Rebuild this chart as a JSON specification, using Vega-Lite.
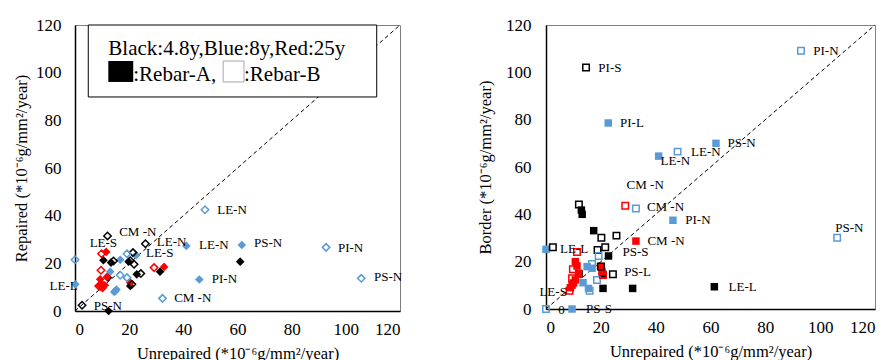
{
  "$schema": "https://vega.github.io/schema/vega-lite/v6.json",
  "padding": {"left": 13, "top": 15, "right": 0, "bottom": 0},
  "autosize": {"type": "pad"},
  "background": "white",
  "bounds": "flush",
  "spacing": 146,
  "config": {
    "font": "Liberation Serif",
    "view": {"stroke": "#808080", "strokeWidth": 1},
    "axis": {
      "grid": false, "ticks": false, "domainColor": "#000000", "domainWidth": 1.5,
      "labelFont": "Liberation Serif", "labelFontSize": 17, "labelColor": "#000000",
      "titleFont": "Liberation Serif", "titleFontSize": 16.5, "titleFontWeight": "normal", "titleColor": "#000000"
    },
    "axisX": {"labelPadding": 10, "titlePadding": 8},
    "axisY": {"labelPadding": 14}
  },
  "datasets": {
    "diag": [{"x": 0, "y": 0}, {"x": 120, "y": 120}],
    "one": [{"k": 1}],
    "left": [
      {"x": 61.0, "y": 20.7, "age": "4.8y", "rebar": "A"},
      {"x": 12.4, "y": 0, "age": "4.8y", "rebar": "A"},
      {"x": 10.5, "y": 21.3, "age": "4.8y", "rebar": "A"},
      {"x": 13.3, "y": 20.3, "age": "4.8y", "rebar": "A"},
      {"x": 19.8, "y": 20.7, "age": "4.8y", "rebar": "A"},
      {"x": 22.8, "y": 15.4, "age": "4.8y", "rebar": "A"},
      {"x": 31.4, "y": 16.5, "age": "4.8y", "rebar": "A"},
      {"x": 20.4, "y": 10.5, "age": "4.8y", "rebar": "A"},
      {"x": 12.2, "y": 14.0, "age": "4.8y", "rebar": "A"},
      {"x": 12.0, "y": 31.5, "age": "4.8y", "rebar": "B"},
      {"x": 26.0, "y": 28.2, "age": "4.8y", "rebar": "B"},
      {"x": 2.6, "y": 2.4, "age": "4.8y", "rebar": "B"},
      {"x": 14.2, "y": 21.0, "age": "4.8y", "rebar": "B"},
      {"x": 21.4, "y": 24.5, "age": "4.8y", "rebar": "B"},
      {"x": 20.4, "y": 21.1, "age": "4.8y", "rebar": "B"},
      {"x": 21.8, "y": 19.6, "age": "4.8y", "rebar": "B"},
      {"x": 24.3, "y": 15.7, "age": "4.8y", "rebar": "B"},
      {"x": 21.0, "y": 11.2, "age": "4.8y", "rebar": "B"},
      {"x": 61.6, "y": 27.7, "age": "8y", "rebar": "A"},
      {"x": 41.1, "y": 27.3, "age": "8y", "rebar": "A"},
      {"x": 45.9, "y": 13.2, "age": "8y", "rebar": "A"},
      {"x": 0.1, "y": 11.2, "age": "8y", "rebar": "A"},
      {"x": 22.6, "y": 23.4, "age": "8y", "rebar": "A"},
      {"x": 16.7, "y": 21.5, "age": "8y", "rebar": "A"},
      {"x": 13.0, "y": 16.5, "age": "8y", "rebar": "A"},
      {"x": 14.9, "y": 8.4, "age": "8y", "rebar": "A"},
      {"x": 15.3, "y": 9.0, "age": "8y", "rebar": "A"},
      {"x": 14.5, "y": 8.0, "age": "8y", "rebar": "A"},
      {"x": 48.0, "y": 42.5, "age": "8y", "rebar": "B"},
      {"x": 92.7, "y": 26.7, "age": "8y", "rebar": "B"},
      {"x": 105.7, "y": 13.7, "age": "8y", "rebar": "B"},
      {"x": 32.3, "y": 5.3, "age": "8y", "rebar": "B"},
      {"x": 0, "y": 21.5, "age": "8y", "rebar": "B"},
      {"x": 19.2, "y": 24.0, "age": "8y", "rebar": "B"},
      {"x": 16.7, "y": 15.0, "age": "8y", "rebar": "B"},
      {"x": 19.2, "y": 14.0, "age": "8y", "rebar": "B"},
      {"x": 11.5, "y": 24.8, "age": "25y", "rebar": "A"},
      {"x": 32.9, "y": 18.5, "age": "25y", "rebar": "A"},
      {"x": 11.8, "y": 14.3, "age": "25y", "rebar": "A"},
      {"x": 20.4, "y": 11.9, "age": "25y", "rebar": "A"},
      {"x": 9.3, "y": 13.3, "age": "25y", "rebar": "A"},
      {"x": 9.3, "y": 10.1, "age": "25y", "rebar": "A"},
      {"x": 8.6, "y": 10.5, "age": "25y", "rebar": "A"},
      {"x": 10.2, "y": 9.6, "age": "25y", "rebar": "A"},
      {"x": 9.8, "y": 11.5, "age": "25y", "rebar": "A"},
      {"x": 11.0, "y": 10.8, "age": "25y", "rebar": "A"},
      {"x": 9.8, "y": 24.0, "age": "25y", "rebar": "B"},
      {"x": 9.6, "y": 17.1, "age": "25y", "rebar": "B"},
      {"x": 29.2, "y": 18.2, "age": "25y", "rebar": "B"}
    ],
    "right": [
      {"x": 12.9, "y": 41.8, "age": "4.8y", "rebar": "A"},
      {"x": 13.2, "y": 40.0, "age": "4.8y", "rebar": "A"},
      {"x": 17.4, "y": 33.1, "age": "4.8y", "rebar": "A"},
      {"x": 22.8, "y": 22.4, "age": "4.8y", "rebar": "A"},
      {"x": 20.8, "y": 8.7, "age": "4.8y", "rebar": "A"},
      {"x": 31.6, "y": 8.7, "age": "4.8y", "rebar": "A"},
      {"x": 61.4, "y": 9.4, "age": "4.8y", "rebar": "A"},
      {"x": 12.1, "y": 14.8, "age": "4.8y", "rebar": "A"},
      {"x": 20.6, "y": 14.8, "age": "4.8y", "rebar": "A"},
      {"x": 14.6, "y": 102.0, "age": "4.8y", "rebar": "B"},
      {"x": 12.0, "y": 44.2, "age": "4.8y", "rebar": "B"},
      {"x": 2.5, "y": 26.1, "age": "4.8y", "rebar": "B"},
      {"x": 20.2, "y": 30.1, "age": "4.8y", "rebar": "B"},
      {"x": 25.7, "y": 31.0, "age": "4.8y", "rebar": "B"},
      {"x": 18.8, "y": 24.9, "age": "4.8y", "rebar": "B"},
      {"x": 21.6, "y": 26.1, "age": "4.8y", "rebar": "B"},
      {"x": 24.4, "y": 14.7, "age": "4.8y", "rebar": "B"},
      {"x": 20.0, "y": 18.0, "age": "4.8y", "rebar": "B"},
      {"x": 22.7, "y": 78.6, "age": "8y", "rebar": "A"},
      {"x": 62.0, "y": 70.0, "age": "8y", "rebar": "A"},
      {"x": 41.1, "y": 64.6, "age": "8y", "rebar": "A"},
      {"x": 46.3, "y": 37.5, "age": "8y", "rebar": "A"},
      {"x": 0, "y": 25.2, "age": "8y", "rebar": "A"},
      {"x": 9.5, "y": 0, "age": "8y", "rebar": "A"},
      {"x": 15.0, "y": 17.9, "age": "8y", "rebar": "A"},
      {"x": 16.8, "y": 17.2, "age": "8y", "rebar": "A"},
      {"x": 13.5, "y": 11.1, "age": "8y", "rebar": "A"},
      {"x": 15.5, "y": 8.7, "age": "8y", "rebar": "A"},
      {"x": 93.0, "y": 109.1, "age": "8y", "rebar": "B"},
      {"x": 106.2, "y": 30.1, "age": "8y", "rebar": "B"},
      {"x": 48.0, "y": 66.5, "age": "8y", "rebar": "B"},
      {"x": 32.8, "y": 42.5, "age": "8y", "rebar": "B"},
      {"x": 0, "y": 0, "age": "8y", "rebar": "B"},
      {"x": 19.2, "y": 22.4, "age": "8y", "rebar": "B"},
      {"x": 16.8, "y": 19.0, "age": "8y", "rebar": "B"},
      {"x": 18.6, "y": 12.3, "age": "8y", "rebar": "B"},
      {"x": 15.9, "y": 7.7, "age": "8y", "rebar": "B"},
      {"x": 32.8, "y": 28.7, "age": "25y", "rebar": "A"},
      {"x": 10.7, "y": 20.0, "age": "25y", "rebar": "A"},
      {"x": 11.3, "y": 18.2, "age": "25y", "rebar": "A"},
      {"x": 20.2, "y": 17.9, "age": "25y", "rebar": "A"},
      {"x": 20.4, "y": 15.8, "age": "25y", "rebar": "A"},
      {"x": 11.9, "y": 15.1, "age": "25y", "rebar": "A"},
      {"x": 10.7, "y": 12.3, "age": "25y", "rebar": "A"},
      {"x": 9.5, "y": 10.1, "age": "25y", "rebar": "A"},
      {"x": 8.9, "y": 9.0, "age": "25y", "rebar": "A"},
      {"x": 10.0, "y": 11.0, "age": "25y", "rebar": "A"},
      {"x": 28.9, "y": 43.6, "age": "25y", "rebar": "B"},
      {"x": 11.3, "y": 24.1, "age": "25y", "rebar": "B"},
      {"x": 9.8, "y": 16.8, "age": "25y", "rebar": "B"},
      {"x": 9.5, "y": 13.0, "age": "25y", "rebar": "B"},
      {"x": 20.8, "y": 14.4, "age": "25y", "rebar": "B"},
      {"x": 8.6, "y": 7.7, "age": "25y", "rebar": "B"}
    ],
    "leftLabels": [
      {"x": 52.5, "y": 42.5, "t": "LE-N"},
      {"x": 16.3, "y": 33.3, "t": "CM -N"},
      {"x": 5.4, "y": 28.7, "t": "LE-S"},
      {"x": 30.2, "y": 28.8, "t": "LE-N"},
      {"x": 45.8, "y": 27.8, "t": "LE-N"},
      {"x": 66.1, "y": 28.5, "t": "PS-N"},
      {"x": 97.1, "y": 26.4, "t": "PI-N"},
      {"x": 26.2, "y": 24.4, "t": "LE-S"},
      {"x": 50.5, "y": 13.4, "t": "PI-N"},
      {"x": 110.4, "y": 14.2, "t": "PS-N"},
      {"x": -9.4, "y": 10.4, "t": "LE-L"},
      {"x": 36.6, "y": 5.4, "t": "CM -N"},
      {"x": 6.9, "y": 2.0, "t": "PS-N"}
    ],
    "rightLabels": [
      {"x": 97.5, "y": 109.1, "t": "PI-N"},
      {"x": 19.1, "y": 102.0, "t": "PI-S"},
      {"x": 27.0, "y": 78.6, "t": "PI-L"},
      {"x": 66.2, "y": 70.3, "t": "PS-N"},
      {"x": 52.9, "y": 66.5, "t": "LE-N"},
      {"x": 41.8, "y": 62.4, "t": "LE-N"},
      {"x": 29.4, "y": 52.2, "t": "CM -N"},
      {"x": 36.8, "y": 43.3, "t": "CM -N"},
      {"x": 50.8, "y": 37.5, "t": "PI-N"},
      {"x": 105.5, "y": 34.4, "t": "PS-N"},
      {"x": 37.0, "y": 28.9, "t": "CM -N"},
      {"x": 5.1, "y": 25.3, "t": "LE-L"},
      {"x": 27.9, "y": 24.0, "t": "PS-S"},
      {"x": 28.5, "y": 15.8, "t": "PS-L"},
      {"x": 66.6, "y": 9.4, "t": "LE-L"},
      {"x": -2.4, "y": 7.3, "t": "LE-S"},
      {"x": 4.5, "y": -0.4, "t": "0"},
      {"x": 14.6, "y": 0.0, "t": "PS-S"}
    ]
  },
  "hconcat": [
    {
      "width": 325,
      "height": 286,
      "encoding": {
        "x": {"type": "quantitative", "scale": {"domain": [0, 120], "nice": false}, "axis": {"values": [0, 20, 40, 60, 80, 100, 120], "title": "Unrepaired (*10⁻⁶g/mm²/year)"}},
        "y": {"type": "quantitative", "scale": {"domain": [0, 120], "nice": false}, "axis": {"values": [0, 20, 40, 60, 80, 100, 120], "title": "Repaired (*10⁻⁶g/mm²/year)", "titlePadding": 6}}
      },
      "layer": [
        {
          "data": {"name": "diag"},
          "mark": {"type": "line", "color": "#000000", "strokeWidth": 1, "strokeDash": [4, 3]},
          "encoding": {"x": {"field": "x", "type": "quantitative"}, "y": {"field": "y", "type": "quantitative"}}
        },
        {
          "data": {"name": "left"},
          "transform": [{"filter": "datum.rebar === 'A'"}],
          "mark": {"type": "point", "shape": "diamond", "filled": true, "size": 75, "opacity": 1},
          "encoding": {
            "x": {"field": "x", "type": "quantitative"},
            "y": {"field": "y", "type": "quantitative"},
            "color": {"field": "age", "type": "nominal", "scale": {"domain": ["4.8y", "8y", "25y"], "range": ["#000000", "#5B9BD5", "#FF0000"]}, "legend": null}
          }
        },
        {
          "data": {"name": "left"},
          "transform": [{"filter": "datum.rebar === 'B'"}],
          "mark": {"type": "point", "shape": "diamond", "filled": false, "size": 55, "strokeWidth": 1.5, "opacity": 1},
          "encoding": {
            "x": {"field": "x", "type": "quantitative"},
            "y": {"field": "y", "type": "quantitative"},
            "color": {"field": "age", "type": "nominal", "scale": {"domain": ["4.8y", "8y", "25y"], "range": ["#000000", "#5B9BD5", "#FF0000"]}, "legend": null}
          }
        },
        {
          "data": {"name": "leftLabels"},
          "mark": {"type": "text", "align": "left", "baseline": "middle", "fontSize": 13, "font": "Liberation Serif", "color": "#000000"},
          "encoding": {"x": {"field": "x", "type": "quantitative"}, "y": {"field": "y", "type": "quantitative"}, "text": {"field": "t"}}
        },
        {
          "data": {"name": "one"},
          "mark": {"type": "rect", "fill": "white", "stroke": "#000000", "strokeWidth": 1},
          "encoding": {"x": {"datum": 4.9}, "x2": {"datum": 111.4}, "y": {"datum": 120}, "y2": {"datum": 89.8}}
        },
        {
          "data": {"name": "one"},
          "mark": {"type": "text", "align": "left", "baseline": "middle", "fontSize": 21, "font": "Liberation Serif", "color": "#000000", "text": "Black:4.8y,Blue:8y,Red:25y"},
          "encoding": {"x": {"datum": 12.3}, "y": {"datum": 109.9}}
        },
        {
          "data": {"name": "one"},
          "mark": {"type": "rect", "fill": "#000000"},
          "encoding": {"x": {"datum": 12.3}, "x2": {"datum": 21.5}, "y": {"datum": 104.9}, "y2": {"datum": 96.1}}
        },
        {
          "data": {"name": "one"},
          "mark": {"type": "rect", "fill": "white", "stroke": "#a6a6a6", "strokeWidth": 1},
          "encoding": {"x": {"datum": 54.7}, "x2": {"datum": 62.4}, "y": {"datum": 104.9}, "y2": {"datum": 96.1}}
        },
        {
          "data": {"name": "one"},
          "mark": {"type": "text", "align": "left", "baseline": "middle", "fontSize": 21, "font": "Liberation Serif", "color": "#000000", "text": ":Rebar-A,"},
          "encoding": {"x": {"datum": 21.5}, "y": {"datum": 99.2}}
        },
        {
          "data": {"name": "one"},
          "mark": {"type": "text", "align": "left", "baseline": "middle", "fontSize": 21, "font": "Liberation Serif", "color": "#000000", "text": ":Rebar-B"},
          "encoding": {"x": {"datum": 62.4}, "y": {"datum": 99.2}}
        }
      ]
    },
    {
      "width": 329,
      "height": 284,
      "encoding": {
        "x": {"type": "quantitative", "scale": {"domain": [0, 120], "nice": false}, "axis": {"values": [0, 20, 40, 60, 80, 100, 120], "title": "Unrepaired (*10⁻⁶g/mm²/year)"}},
        "y": {"type": "quantitative", "scale": {"domain": [0, 120], "nice": false}, "axis": {"values": [0, 20, 40, 60, 80, 100, 120], "title": "Border (*10⁻⁶g/mm²/year)", "titlePadding": 12, "labelPadding": 15}}
      },
      "layer": [
        {
          "data": {"name": "diag"},
          "mark": {"type": "line", "color": "#000000", "strokeWidth": 1, "strokeDash": [4, 3]},
          "encoding": {"x": {"field": "x", "type": "quantitative"}, "y": {"field": "y", "type": "quantitative"}}
        },
        {
          "data": {"name": "right"},
          "transform": [{"filter": "datum.rebar === 'A'"}],
          "mark": {"type": "point", "shape": "square", "filled": true, "size": 56, "opacity": 1},
          "encoding": {
            "x": {"field": "x", "type": "quantitative"},
            "y": {"field": "y", "type": "quantitative"},
            "color": {"field": "age", "type": "nominal", "scale": {"domain": ["4.8y", "8y", "25y"], "range": ["#000000", "#5B9BD5", "#FF0000"]}, "legend": null}
          }
        },
        {
          "data": {"name": "right"},
          "transform": [{"filter": "datum.rebar === 'B'"}],
          "mark": {"type": "point", "shape": "square", "filled": false, "size": 42, "strokeWidth": 1.5, "opacity": 1},
          "encoding": {
            "x": {"field": "x", "type": "quantitative"},
            "y": {"field": "y", "type": "quantitative"},
            "color": {"field": "age", "type": "nominal", "scale": {"domain": ["4.8y", "8y", "25y"], "range": ["#000000", "#5B9BD5", "#FF0000"]}, "legend": null}
          }
        },
        {
          "data": {"name": "rightLabels"},
          "mark": {"type": "text", "align": "left", "baseline": "middle", "fontSize": 13, "font": "Liberation Serif", "color": "#000000"},
          "encoding": {"x": {"field": "x", "type": "quantitative"}, "y": {"field": "y", "type": "quantitative"}, "text": {"field": "t"}}
        }
      ]
    }
  ]
}
